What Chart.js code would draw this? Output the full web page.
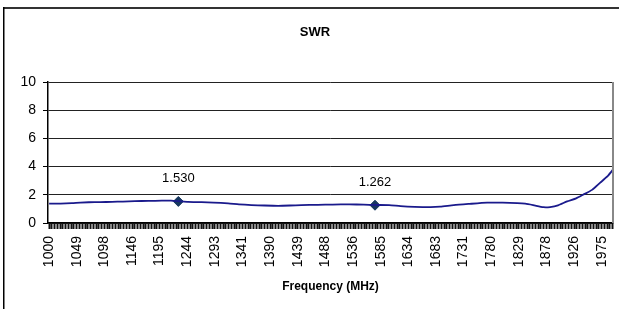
<!DOCTYPE html>
<html>
<head>
<meta charset="utf-8">
<script src="https://cdn.jsdelivr.net/npm/chart.js@4/dist/chart.umd.min.js"></script>
<style>
  html, body { margin: 0; padding: 0; background: #fff; overflow: hidden; }
</style>
</head>
<body>
<canvas id="myChart" width="619" height="309"></canvas>
<script>
// SWR trace (MHz, SWR)
const freqMHz = [1000, 1020, 1040, 1055, 1070, 1090, 1111, 1130, 1151, 1175, 1199, 1215, 1228,
  1245, 1269, 1290, 1316, 1335, 1357, 1380, 1404, 1425, 1445, 1474, 1500, 1530, 1555, 1575,
  1600, 1620, 1645, 1673, 1690, 1714, 1740, 1773, 1800, 1826, 1840, 1854, 1872, 1884, 1898,
  1914, 1930, 1942, 1958, 1972, 1985, 1995];
const swr = [1.37, 1.38, 1.41, 1.45, 1.47, 1.48, 1.50, 1.52, 1.55, 1.57, 1.58, 1.58, 1.55,
  1.50, 1.48, 1.45, 1.39, 1.32, 1.27, 1.24, 1.22, 1.24, 1.27, 1.29, 1.31, 1.32, 1.30, 1.28,
  1.27, 1.20, 1.15, 1.13, 1.16, 1.27, 1.35, 1.44, 1.44, 1.41, 1.37, 1.27, 1.12, 1.13, 1.25,
  1.53, 1.75, 2.00, 2.35, 2.85, 3.30, 3.78];

// marked points
const markerFreq = [1228, 1575];
const markerSwr = [1.530, 1.262];
const markerLabels = ['1.530', '1.262'];

// category labels shown on the x axis
const tickLabels = ['1000', '1049', '1098', '1146', '1195', '1244', '1293', '1341', '1390', '1439',
  '1488', '1536', '1585', '1634', '1683', '1731', '1780', '1829', '1878', '1926', '1975'];
const yTicks = [0, 2, 4, 6, 8, 10];

const FONT = '"Liberation Sans", Arial, sans-serif';

const tracePoints = freqMHz.map((f, i) => ({ x: f, y: swr[i] }));
const markerPoints = markerFreq.map((f, i) => ({ x: f, y: markerSwr[i] }));

// outer frame, plot frame and the texts
const extras = {
  id: 'extras',
  afterDraw(chart) {
    const c = chart.ctx, a = chart.chartArea;
    c.save();
    // chart frame (right and bottom edges fall outside the picture)
    c.fillStyle = '#333';
    c.fillRect(3, 7, 616, 2);
    c.fillStyle = '#000';
    c.fillRect(3, 7, 1.5, 302);

    c.strokeStyle = '#888';
    c.lineWidth = 2;
    c.beginPath();
    c.moveTo(a.right, a.top);
    c.lineTo(a.right, a.bottom);
    c.stroke();

    c.fillStyle = '#000';
    c.textAlign = 'center';
    c.textBaseline = 'middle';
    c.font = 'bold 13px ' + FONT;
    c.fillText('SWR', 315, 32);
    c.font = 'bold 12px ' + FONT;
    c.fillText('Frequency (MHz)', (a.left + a.right) / 2, 287);

    c.font = '13px ' + FONT;
    const meta = chart.getDatasetMeta(1);
    meta.data.forEach((pt, i) => {
      c.fillText(markerLabels[i], pt.x, pt.y - 23);
    });
    c.restore();
  }
};

const ctx = document.getElementById('myChart').getContext('2d');
const chart = new Chart(ctx, {
  type: 'line',
  data: {
    datasets: [{
      label: 'SWR',
      data: tracePoints,
      borderColor: '#1a1a8c',
      borderWidth: 1.8,
      pointRadius: 0,
      tension: 0.2,
      fill: false
    }, {
      label: 'Markers',
      data: markerPoints,
      showLine: false,
      pointStyle: 'rectRot',
      pointRadius: 5,
      pointBackgroundColor: '#17375e',
      pointBorderColor: '#17375e'
    }]
  },
  options: {
    responsive: false,
    animation: false,
    layout: { padding: { top: 82, right: 4, left: 0, bottom: 0 } },
    plugins: {
      legend: { display: false },
      title: { display: false },
      tooltip: { enabled: false }
    },
    scales: {
      x: {
        type: 'linear',
        min: 998,
        max: 1995,
        afterBuildTicks(scale) {
          const ticks = [];
          for (let k = 0; k * 4.875 + 1000 <= 1995; k++) {
            ticks.push({ value: 1000 + k * 4.875 });
          }
          scale.ticks = ticks;
        },
        afterFit(scale) {
          scale.height = 309 - 223;
          scale.paddingLeft = 0;
          scale.paddingRight = 0;
        },
        ticks: {
          autoSkip: false,
          maxRotation: 90,
          minRotation: 90,
          padding: 7,
          color: '#000',
          font: { family: FONT, size: 14 },
          callback: (v, i) => (i % 10 === 0 && tickLabels[i / 10]) ? tickLabels[i / 10] : ''
        },
        grid: {
          drawOnChartArea: false,
          drawTicks: true,
          tickLength: 6,
          tickColor: '#111',
          tickWidth: 2
        },
        border: { color: '#000', width: 1.5 }
      },
      y: {
        min: 0,
        max: 10,
        afterBuildTicks(scale) { scale.ticks = yTicks.map(v => ({ value: v })); },
        afterFit(scale) { scale.width = 48; },
        ticks: {
          padding: 7,
          color: '#000',
          font: { family: FONT, size: 14 }
        },
        grid: {
          color: '#222',
          lineWidth: 1,
          tickLength: 5,
          tickColor: '#000'
        },
        border: { color: '#000', width: 1.5 }
      }
    }
  },
  plugins: [extras]
});
</script>
</body>
</html>
